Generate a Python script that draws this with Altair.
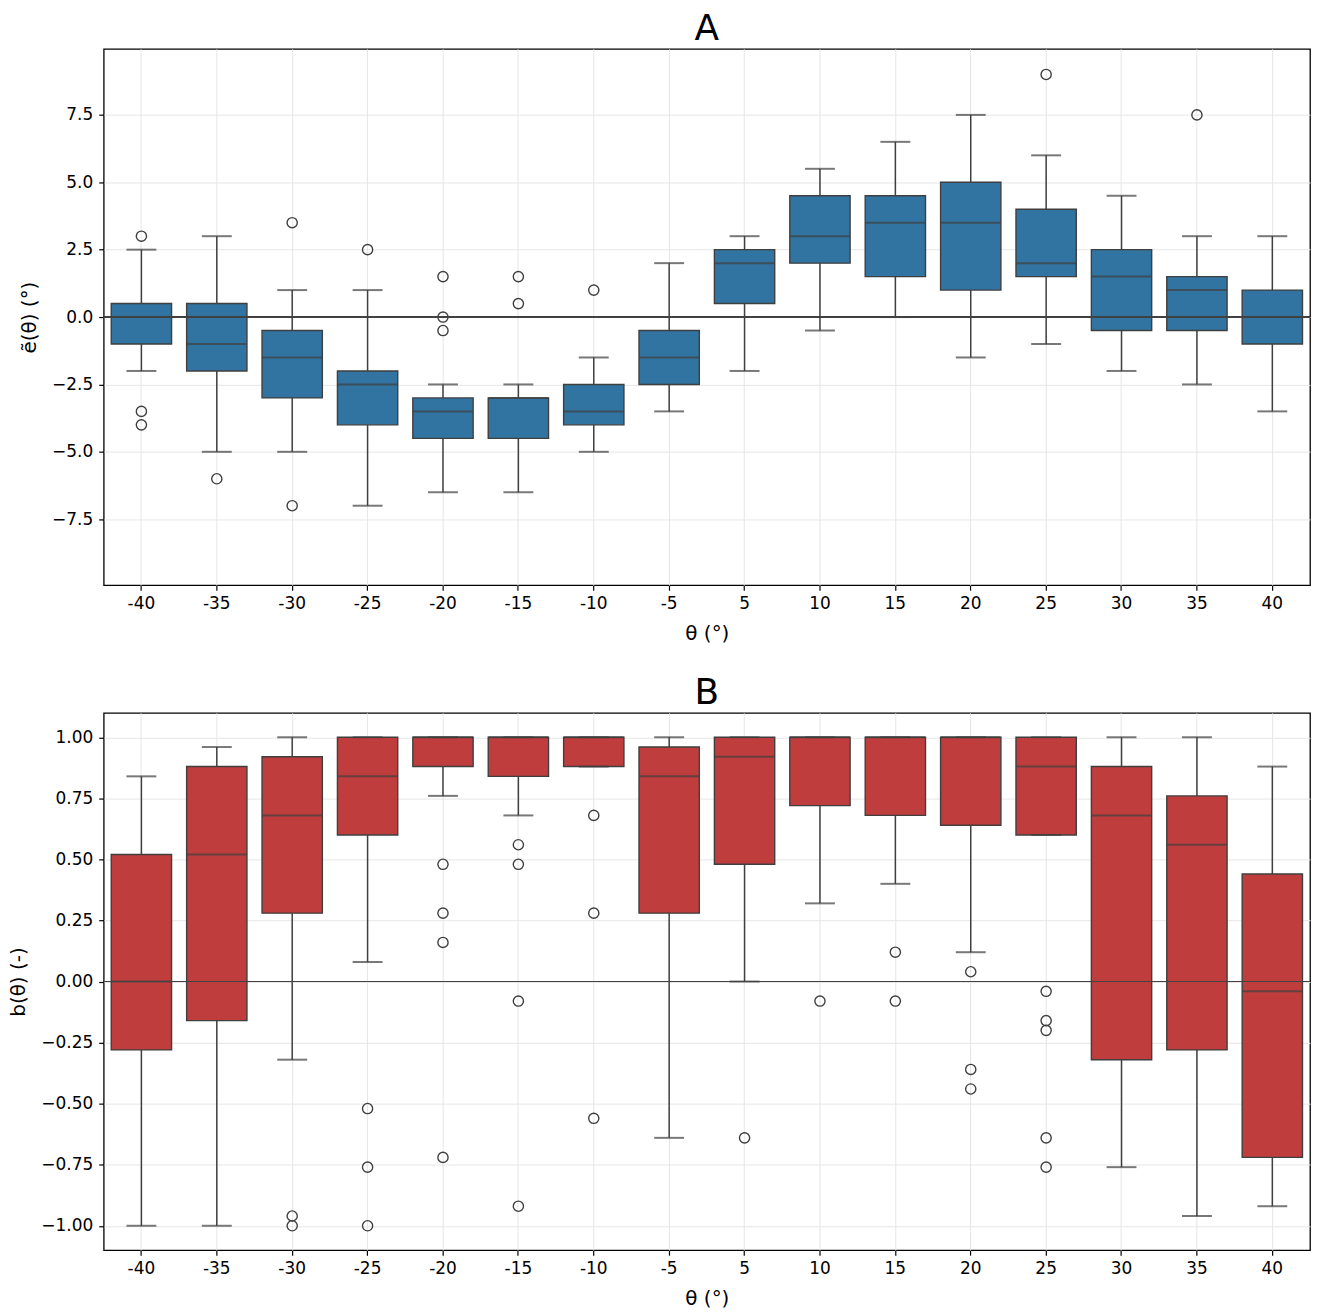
import altair as alt
import pandas as pd

thetas = ["-40", "-35", "-30", "-25", "-20", "-15", "-10", "-5",
          "5", "10", "15", "20", "25", "30", "35", "40"]

# Panel A: e~(theta) box statistics
a_q1 = [-1.0, -2.0, -3.0, -4.0, -4.5, -4.5, -4.0, -2.5, 0.5, 2.0, 1.5, 1.0, 1.5, -0.5, -0.5, -1.0]
a_med = [0.0, -1.0, -1.5, -2.5, -3.5, -3.0, -3.5, -1.5, 2.0, 3.0, 3.5, 3.5, 2.0, 1.5, 1.0, 0.0]
a_q3 = [0.5, 0.5, -0.5, -2.0, -3.0, -3.0, -2.5, -0.5, 2.5, 4.5, 4.5, 5.0, 4.0, 2.5, 1.5, 1.0]
a_lo = [-2.0, -5.0, -5.0, -7.0, -6.5, -6.5, -5.0, -3.5, -2.0, -0.5, 0.0, -1.5, -1.0, -2.0, -2.5, -3.5]
a_hi = [2.5, 3.0, 1.0, 1.0, -2.5, -2.5, -1.5, 2.0, 3.0, 5.5, 6.5, 7.5, 6.0, 4.5, 3.0, 3.0]
a_out = [[3.0, -3.5, -4.0], [-6.0], [3.5, -7.0], [2.5], [1.5, 0.0, -0.5], [1.5, 0.5], [1.0],
         [], [], [], [], [], [9.0], [], [7.5], []]

# Panel B: b(theta) box statistics
b_q1 = [-0.28, -0.16, 0.28, 0.60, 0.88, 0.84, 0.88, 0.28, 0.48, 0.72, 0.68, 0.64, 0.60, -0.32, -0.28, -0.72]
b_med = [0.00, 0.52, 0.68, 0.84, 1.00, 1.00, 1.00, 0.84, 0.92, 1.00, 1.00, 1.00, 0.88, 0.68, 0.56, -0.04]
b_q3 = [0.52, 0.88, 0.92, 1.00, 1.00, 1.00, 1.00, 0.96, 1.00, 1.00, 1.00, 1.00, 1.00, 0.88, 0.76, 0.44]
b_lo = [-1.00, -1.00, -0.32, 0.08, 0.76, 0.68, 0.88, -0.64, 0.00, 0.32, 0.40, 0.12, 0.60, -0.76, -0.96, -0.92]
b_hi = [0.84, 0.96, 1.00, 1.00, 1.00, 1.00, 1.00, 1.00, 1.00, 1.00, 1.00, 1.00, 1.00, 1.00, 1.00, 0.88]
b_out = [[], [], [-0.96, -1.00], [-0.52, -0.76, -1.00], [0.48, 0.28, 0.16, -0.72],
         [0.56, 0.48, -0.08, -0.92], [0.68, 0.28, -0.56], [], [-0.64], [-0.08], [0.12, -0.08],
         [0.04, -0.36, -0.44], [-0.04, -0.16, -0.20, -0.64, -0.76], [], [], []]

a_ticks = [-7.5, -5.0, -2.5, 0.0, 2.5, 5.0, 7.5]
b_ticks = [-1.0, -0.75, -0.5, -0.25, 0.0, 0.25, 0.5, 0.75, 1.0]

LINE = "#3f3f3f"
FONT = "DejaVu Sans"
W = 1210


def panel(q1, med, q3, lo, hi, out, color, title, ytitle, domain, ticks, fmt, height):
    box = pd.DataFrame({"theta": thetas, "q1": q1, "med": med, "q3": q3, "lo": lo, "hi": hi})
    flier = pd.DataFrame([{"theta": t, "v": v} for t, vs in zip(thetas, out) for v in vs])

    xscale = alt.Scale(paddingInner=0, paddingOuter=0)
    xaxis = alt.Axis(labelAngle=0, bandPosition=0.5, grid=True, labelPadding=5,
                     titlePadding=12)
    yscale = alt.Scale(domain=domain, nice=False, zero=False)
    yaxis = alt.Axis(values=ticks, format=fmt, grid=True, labelPadding=6, titlePadding=12)

    def X():
        return alt.X("theta:N", sort=thetas, scale=xscale, axis=xaxis, title="θ (°)")

    def Y(f):
        return alt.Y(f, scale=yscale, axis=yaxis, title=ytitle)

    base = alt.Chart(box)
    w_low = base.mark_rule(color=LINE, strokeWidth=1.5).encode(x=X(), y=Y("lo:Q"), y2="q1:Q")
    w_high = base.mark_rule(color=LINE, strokeWidth=1.5).encode(x=X(), y=Y("q3:Q"), y2="hi:Q")
    bars = base.mark_bar(width=alt.RelativeBandSize(0.8), fill=color, stroke=LINE,
                         strokeWidth=1.4).encode(x=X(), y=Y("q1:Q"), y2="q3:Q")
    meds = base.mark_tick(color=LINE, size=60, thickness=2).encode(x=X(), y=Y("med:Q"))
    cap_lo = base.mark_tick(color=LINE, size=30, thickness=2).encode(x=X(), y=Y("lo:Q"))
    cap_hi = base.mark_tick(color=LINE, size=30, thickness=2).encode(x=X(), y=Y("hi:Q"))
    pts = alt.Chart(flier).mark_point(shape="circle", filled=False, color=LINE, size=105,
                                      strokeWidth=1.4, opacity=1).encode(x=X(), y=Y("v:Q"))
    zero = alt.Chart(box).mark_rule(color="#444444", opacity=0.55, strokeWidth=1.2).encode(
        y=alt.datum(0))
    return alt.layer(w_low, w_high, bars, meds, cap_lo, cap_hi, pts, zero).properties(
        width=W, height=height,
        title=alt.TitleParams(text=title, fontSize=36, font=FONT, fontWeight="normal",
                              anchor="middle", offset=1, color="black"))


pa = panel(a_q1, a_med, a_q3, a_lo, a_hi, a_out, "#3274a1", "A", "ẽ(θ) (°)",
           [-9.95, 9.95], a_ticks, ".1f", 538)
pb = panel(b_q1, b_med, b_q3, b_lo, b_hi, b_out, "#c03d3e", "B", "b(θ) (-)",
           [-1.1, 1.1], b_ticks, ".2f", 539)

chart = alt.vconcat(pa, pb, spacing=30).properties(
    padding={"left": 0, "right": 5, "top": 0, "bottom": 0}
).configure_view(stroke="black", strokeWidth=1.3).configure_axis(
    labelFont=FONT, titleFont=FONT, labelFontSize=17, titleFontSize=20,
    titleFontWeight="normal", labelColor="black", titleColor="black",
    tickColor="black", tickSize=5, tickWidth=1.2, domain=False,
    gridColor="#e6e6e6", gridWidth=1
)

chart.save("out.html", embed_options={"renderer": "svg", "actions": False})
